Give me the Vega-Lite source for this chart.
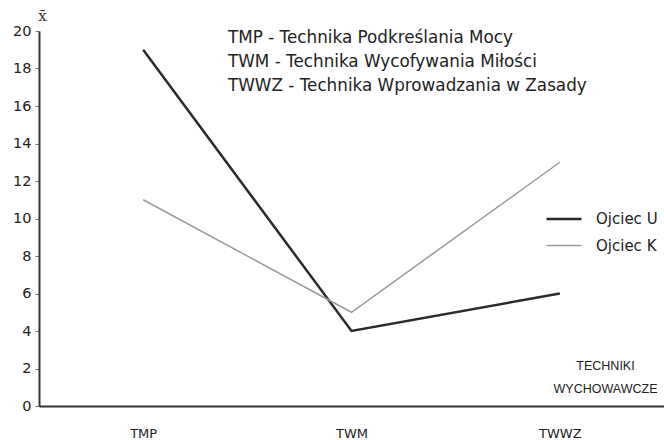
{
  "$schema": "https://vega.github.io/schema/vega-lite/v6.json",
  "autosize": "none",
  "width": 625,
  "height": 375,
  "padding": {"left": 39, "top": 31, "right": 0, "bottom": 34},
  "background": "white",
  "config": {"view": {"stroke": null}, "font": "DejaVu Sans"},
  "title": {
    "text": ["TMP - Technika Podkreślania Mocy", "TWM - Technika Wycofywania Miłości", "TWWZ - Technika Wprowadzania w Zasady"],
    "anchor": "start",
    "frame": "group",
    "orient": "top",
    "offset": -87,
    "dx": 189,
    "font": "DejaVu Sans",
    "fontSize": 16.8,
    "fontWeight": "normal",
    "color": "#222222",
    "lineHeight": 24
  },
  "data": {
    "values": [
      {"technika": "TMP", "ojciec": "Ojciec U", "x": 19},
      {"technika": "TWM", "ojciec": "Ojciec U", "x": 4},
      {"technika": "TWWZ", "ojciec": "Ojciec U", "x": 6},
      {"technika": "TMP", "ojciec": "Ojciec K", "x": 11},
      {"technika": "TWM", "ojciec": "Ojciec K", "x": 5},
      {"technika": "TWWZ", "ojciec": "Ojciec K", "x": 13}
    ]
  },
  "mark": {"type": "line"},
  "encoding": {
    "x": {
      "field": "technika",
      "type": "nominal",
      "sort": ["TMP", "TWM", "TWWZ"],
      "scale": {"type": "point", "padding": 0.5},
      "axis": {
        "title": ["TECHNIKI", "WYCHOWAWCZE"],
        "titleFont": "Liberation Sans",
        "titleFontSize": 12.5,
        "titleFontWeight": "normal",
        "titleColor": "#222222",
        "titleX": 566,
        "titleY": -41,
        "titleAlign": "center",
        "titleBaseline": "middle",
        "titleLineHeight": 23,
        "labelAngle": 0,
        "labelFont": "DejaVu Sans",
        "labelFontSize": 13,
        "labelColor": "#222222",
        "labelPadding": 21,
        "ticks": false,
        "domainColor": "#333333",
        "domainWidth": 2,
        "grid": false
      }
    },
    "y": {
      "field": "x",
      "type": "quantitative",
      "scale": {"domain": [0, 20], "nice": false},
      "axis": {
        "title": "x̄",
        "titleAngle": 0,
        "titleFont": "DejaVu Serif",
        "titleFontSize": 15,
        "titleFontWeight": "normal",
        "titleColor": "#333333",
        "titleX": 3,
        "titleY": -16,
        "titleAlign": "center",
        "titleBaseline": "middle",
        "values": [0, 2, 4, 6, 8, 10, 12, 14, 16, 18, 20],
        "labelFont": "DejaVu Sans",
        "labelFontSize": 14.5,
        "labelColor": "#222222",
        "labelPadding": 4,
        "tickSize": 4,
        "tickColor": "#777777",
        "domainColor": "#333333",
        "domainWidth": 2,
        "grid": false
      }
    },
    "color": {
      "field": "ojciec",
      "type": "nominal",
      "sort": ["Ojciec U", "Ojciec K"],
      "scale": {"domain": ["Ojciec U", "Ojciec K"], "range": ["#2a2a2a", "#9a9a9a"]},
      "legend": {
        "title": null,
        "orient": "none",
        "legendX": 506,
        "legendY": 169,
        "symbolType": "stroke",
        "symbolSize": 1225,
        "symbolStrokeWidth": 2,
        "labelFont": "DejaVu Sans",
        "labelFontSize": 15,
        "labelColor": "#222222",
        "rowPadding": -7,
        "labelOffset": 13
      }
    },
    "strokeWidth": {
      "field": "ojciec",
      "type": "nominal",
      "scale": {"domain": ["Ojciec U", "Ojciec K"], "range": [2.5, 1.5]},
      "legend": null
    }
  }
}
